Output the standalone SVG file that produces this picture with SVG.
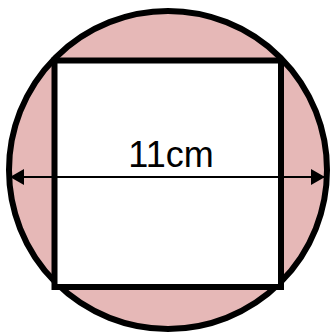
<svg xmlns="http://www.w3.org/2000/svg" width="331" height="333" viewBox="0 0 331 333">
<defs>
<style>
.outline{stroke:#000;stroke-width:6;}
.dim{stroke:#000;stroke-width:2;fill:none;}
.lbl{font-family:"Liberation Sans",Arial,sans-serif;font-size:36px;fill:#000;}
</style>
<marker id="ah" viewBox="0 0 14 16" refX="14" refY="8" markerWidth="14" markerHeight="16" markerUnits="userSpaceOnUse" orient="auto-start-reverse">
<path d="M0,0 L14,8 L0,16 Z" fill="#000"/>
</marker>
</defs>
<rect width="331" height="333" fill="#fff"/>
<g id="circle">
<circle cx="168" cy="170" r="159" fill="#E6B8B7" class="outline"/>
</g>
<g id="square">
<rect x="54.5" y="60.5" width="226.5" height="226.5" fill="#fff" class="outline"/>
</g>
<g id="connectors">
<line x1="10" y1="177" x2="325" y2="177" class="dim" marker-start="url(#ah)" marker-end="url(#ah)"/>
</g>
<g id="label">
<text x="171" y="167" text-anchor="middle" class="lbl">11cm</text>
</g>
</svg>
